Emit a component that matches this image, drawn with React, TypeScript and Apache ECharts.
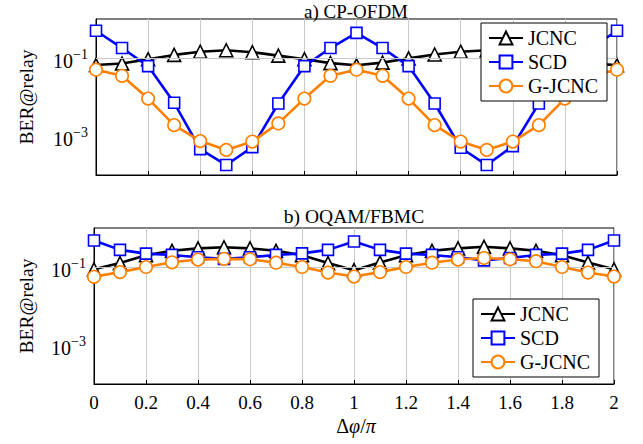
import React, { useEffect, useRef } from "react";
import * as echarts from "echarts";

const PHASE = [0, 0.1, 0.2, 0.3, 0.4, 0.5, 0.6, 0.7, 0.8, 0.9, 1, 1.1, 1.2, 1.3, 1.4, 1.5, 1.6, 1.7, 1.8, 1.9, 2];
const SERIES_NAMES = ["JCNC", "SCD", "G-JCNC"];

// a) CP-OFDM
const OFDM_JCNC = [0.066, 0.072, 0.093, 0.12, 0.145, 0.158, 0.141, 0.115, 0.093, 0.074, 0.065, 0.076, 0.098, 0.123, 0.145, 0.158, 0.145, 0.12, 0.093, 0.074, 0.065];
const OFDM_SCD = [0.5, 0.18, 0.062, 0.0071, 0.00046, 0.00018, 0.00052, 0.0068, 0.062, 0.18, 0.44, 0.18, 0.062, 0.0068, 0.0005, 0.00018, 0.00055, 0.0068, 0.062, 0.18, 0.5];
const OFDM_GJCNC = [0.05, 0.035, 0.0091, 0.0019, 0.00074, 0.00044, 0.00072, 0.0021, 0.0091, 0.035, 0.05, 0.035, 0.0091, 0.0019, 0.00072, 0.00044, 0.00072, 0.0019, 0.0091, 0.035, 0.05];

// b) OQAM/FBMC
const FBMC_JCNC = [0.087, 0.126, 0.2, 0.26, 0.3, 0.32, 0.3, 0.26, 0.2, 0.126, 0.083, 0.13, 0.2, 0.26, 0.3, 0.33, 0.3, 0.26, 0.2, 0.13, 0.087];
const FBMC_SCD = [0.48, 0.275, 0.22, 0.204, 0.178, 0.162, 0.178, 0.204, 0.224, 0.275, 0.45, 0.275, 0.22, 0.204, 0.178, 0.148, 0.17, 0.204, 0.22, 0.275, 0.48];
const FBMC_GJCNC = [0.056, 0.074, 0.1, 0.132, 0.155, 0.162, 0.158, 0.129, 0.1, 0.072, 0.057, 0.074, 0.1, 0.129, 0.155, 0.17, 0.158, 0.141, 0.1, 0.072, 0.057];

const GRID_LINES_Y = [0.1, 0.001];
const TITLES = ["a) CP-OFDM", "b) OQAM/FBMC"];

const FONT = "'Liberation Serif', 'Times New Roman', serif";
const COLORS = ["#000000", "#0000ff", "#ff8000"];
const SYMBOLS = ["triangle", "rect", "circle"];
const SYMBOL_SIZES = [13, 11, 12.5];
const GRAY = "#c8c8c8";

export default function App() {
  const ref = useRef<HTMLDivElement>(null);

  useEffect(() => {
    if (!ref.current) return;
    const chart = echarts.init(ref.current, undefined, { renderer: "svg" });

    const grids = [
      { left: 96, top: 19, width: 521, height: 156 },
      { left: 94, top: 228, width: 520, height: 156 },
    ];

    const yLabel = (v: number) => {
      const e = Math.round(Math.log10(v));
      if (e === -1 || e === -3) return `{b|10}{s|−${-e}}`;
      return "";
    };

    const xAxes = grids.map((_, gi) => ({
      type: "value",
      gridIndex: gi,
      min: 0,
      max: 2,
      interval: 0.2,
      axisLine: { show: true, lineStyle: { color: "#000", width: 1 } },
      axisTick: { show: true, inside: true, length: 4, lineStyle: { color: "#000" } },
      axisLabel: {
        show: gi === 1,
        margin: 9,
        fontFamily: FONT,
        fontSize: 19,
        color: "#000",
        formatter: (v: number) => String(+v.toFixed(1)),
      },
      splitLine: { show: true, lineStyle: { color: GRAY, width: 1 } },
    }));

    const yAxes = grids.map((_, gi) => ({
      type: "log",
      logBase: 10,
      gridIndex: gi,
      min: 0.0001,
      max: 1,
      axisLine: { show: true, lineStyle: { color: "#000", width: 1 } },
      axisTick: { show: false },
      splitLine: { show: false },
      axisLabel: {
        margin: 8,
        fontFamily: FONT,
        color: "#000",
        formatter: yLabel,
        rich: {
          b: { fontFamily: FONT, fontSize: 20, color: "#000", padding: [6, 0, 0, 0] },
          s: { fontFamily: FONT, fontSize: 14, color: "#000", padding: [0, 0, 8, 0] },
        },
      },
    }));

    const allData = [
      [OFDM_JCNC, OFDM_SCD, OFDM_GJCNC],
      [FBMC_JCNC, FBMC_SCD, FBMC_GJCNC],
    ];

    const series: any[] = [];
    grids.forEach((_, gi) => {
      series.push({
        type: "line",
        name: "grid" + gi,
        xAxisIndex: gi,
        yAxisIndex: gi,
        data: [],
        z: 1,
        silent: true,
        markLine: {
          silent: true,
          symbol: "none",
          label: { show: false },
          lineStyle: { color: GRAY, width: 1, type: "solid" },
          data: GRID_LINES_Y.map((y) => ({ yAxis: y })),
        },
      });
      allData[gi].forEach((arr, si) => {
        series.push({
          type: "line",
          name: SERIES_NAMES[si],
          xAxisIndex: gi,
          yAxisIndex: gi,
          data: PHASE.map((x, i) => [x, arr[i]]),
          symbol: SYMBOLS[si],
          symbolSize: SYMBOL_SIZES[si],
          showAllSymbol: true,
          clip: false,
          z: 3 + si,
          lineStyle: { color: COLORS[si], width: 2.6 },
          itemStyle: { color: "#fff", borderColor: COLORS[si], borderWidth: 1.6 },
          emphasis: { disabled: true },
        });
      });
    });

    const legendBase = {
      orient: "vertical",
      data: SERIES_NAMES,
      itemWidth: 34,
      itemHeight: 16,
      itemGap: 4,
      padding: [5, 9, 5, 7],
      backgroundColor: "#fff",
      borderColor: "#000",
      borderWidth: 1,
      borderRadius: 0,
      selectedMode: false,
      textStyle: { fontFamily: FONT, fontSize: 20, color: "#000" },
      z: 10,
    };

    chart.setOption({
      animation: false,
      backgroundColor: "#fff",
      grid: grids.map((g) => ({ ...g, show: true, borderColor: "#000", borderWidth: 1, backgroundColor: "transparent" })),
      xAxis: xAxes,
      yAxis: yAxes,
      legend: [
        { ...legendBase, left: 481, top: 23 },
        { ...legendBase, left: 473, top: 299 },
      ],
      series,
      graphic: [
        {
          type: "text",
          x: 356,
          y: 11,
          style: { text: TITLES[0], font: `19px ${FONT}`, fill: "#000", textAlign: "center", textVerticalAlign: "middle" },
        },
        {
          type: "text",
          x: 354,
          y: 216,
          style: { text: TITLES[1], font: `19.5px ${FONT}`, fill: "#000", textAlign: "center", textVerticalAlign: "middle" },
        },
        {
          type: "text",
          x: 26,
          y: 97,
          rotation: Math.PI / 2,
          style: { text: "BER@relay", font: `19.5px ${FONT}`, fill: "#000", textAlign: "center", textVerticalAlign: "middle" },
        },
        {
          type: "text",
          x: 26,
          y: 306,
          rotation: Math.PI / 2,
          style: { text: "BER@relay", font: `19.5px ${FONT}`, fill: "#000", textAlign: "center", textVerticalAlign: "middle" },
        },
        {
          type: "text",
          x: 356,
          y: 426,
          style: {
            text: "{n|Δ}{i|φ}{n|/}{i|π}",
            textAlign: "center",
            textVerticalAlign: "middle",
            rich: {
              n: { fontFamily: FONT, fontSize: 20, fill: "#000" },
              i: { fontFamily: FONT, fontSize: 20, fontStyle: "italic", fill: "#000" },
            },
          },
        },
      ],
    });

    return () => chart.dispose();
  }, []);

  return (
    <div
      ref={ref}
      style={{ position: "absolute", left: 0, top: 0, width: 643, height: 444, background: "#fff" }}
    />
  );
}
